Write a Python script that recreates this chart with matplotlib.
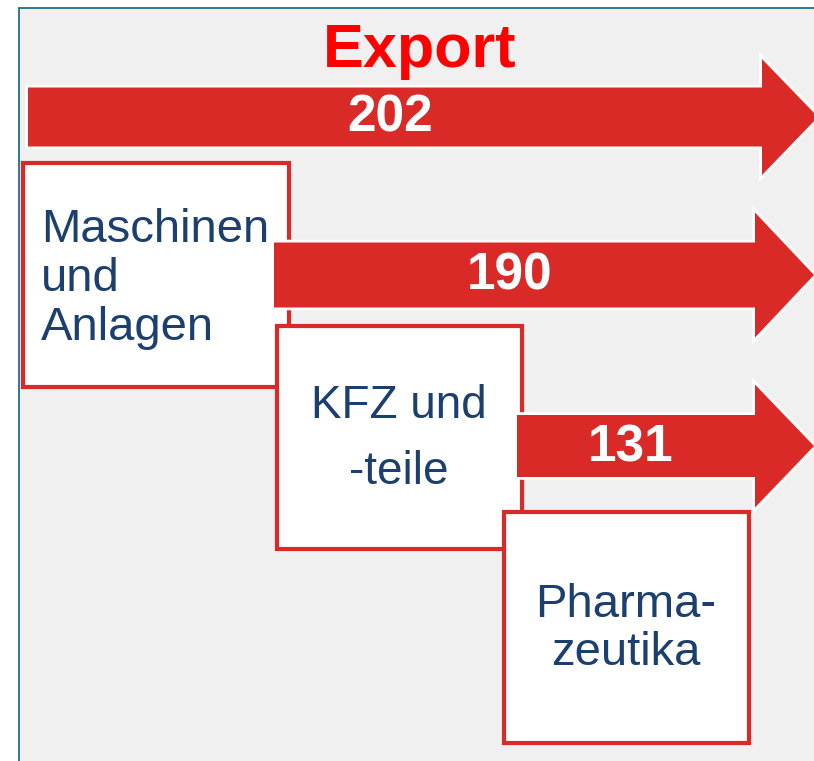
import matplotlib.pyplot as plt
from matplotlib.patches import FancyArrow, Rectangle

# Exportvolumen (Mrd. Euro) und Warengruppen
title = 'Export'
values = [202, 190, 131]
categories = ['Maschinen\nund\nAnlagen', 'KFZ und\n-teile', 'Pharma-\nzeutika']

# layout in pixel coordinates (x0, x_tip, y_center, body, head, head_len)
arrows = [(28, 818, 117, 59, 116, 56),
          (274, 814, 275, 65, 125, 59),
          (517, 814, 446, 62, 123, 59)]
# boxes (x0, y0, x1, y1)
boxes = [(23, 163, 289, 387),
         (277, 326, 522, 549),
         (504, 512, 749, 743)]
value_pos = [(390, 132), (510, 290), (631, 461)]
# text: (x, first baseline, line step, align, fontsize)
label_pos = [(41, 242, 49, 'left', 34),
             (399, 418, 66, 'center', 33),
             (626, 617, 48, 'center', 34)]

red = '#d92a27'
blue = '#1b3f6e'

fig = plt.figure(figsize=(8.14, 7.61), dpi=100)
ax = fig.add_axes([0, 0, 1, 1])
ax.set_xlim(0, 814)
ax.set_ylim(761, 0)
ax.axis('off')
plt.rcParams['font.family'] = ['Liberation Sans', 'DejaVu Sans']

# grey panel with teal border
ax.add_patch(Rectangle((19, 8), 800, 760, facecolor='#f0f0f0',
                       edgecolor='#1f6f8b', linewidth=1.3))

for i, (a, b) in enumerate(zip(arrows, boxes)):
    x0, xt, yc, bw, hw, hl = a
    for ec, lw in [('white', 4), (red, 0)]:
        ax.add_patch(FancyArrow(x0, yc, xt - x0, 0, width=bw, head_width=hw,
                                head_length=hl, length_includes_head=True,
                                facecolor=red, edgecolor=ec, linewidth=lw,
                                joinstyle='miter'))
    ax.text(value_pos[i][0], value_pos[i][1], str(values[i]), color='white',
            fontsize=37, fontweight='bold', ha='center', va='baseline')
    bx0, by0, bx1, by1 = b
    ax.add_patch(Rectangle((bx0, by0), bx1 - bx0, by1 - by0, facecolor='white',
                           edgecolor=red, linewidth=3))
    lx, ly, step, align, fs = label_pos[i]
    for j, line in enumerate(categories[i].split('\n')):
        ax.text(lx, ly + j * step, line, color=blue, fontsize=fs,
                ha=align, va='baseline')

ax.text(420, 67, title, color='#ff0000', fontsize=44, fontweight='bold',
        ha='center', va='baseline')

fig.savefig('out.png', dpi=100)
